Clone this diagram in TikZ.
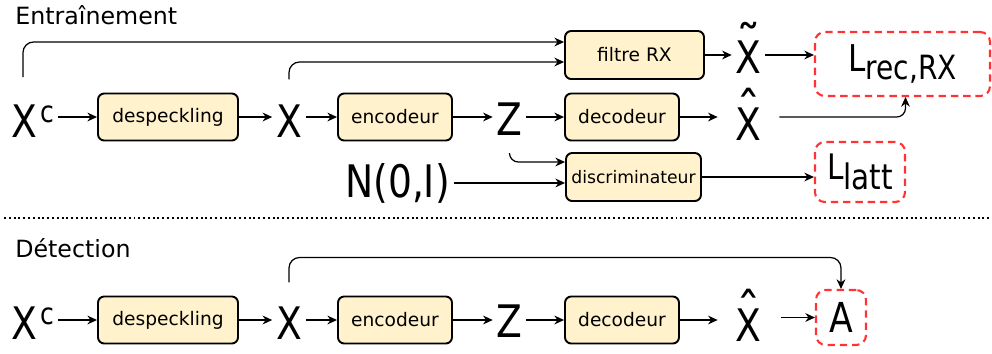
\documentclass[tikz,border=0pt]{standalone}
\usepackage{fontspec}
\setmainfont{DejaVu Sans}
\newfontfamily\symfont{DejaVu Sans}[FakeStretch=0.84]
\usetikzlibrary{arrows.meta,calc}
\definecolor{boxfill}{HTML}{FFF2CC}
\definecolor{lossred}{HTML}{FF3333}
\newcommand{\accX}[1]{\shortstack{{\rmfamily\fontsize{28}{30}\selectfont\raisebox{-0.62em}[0.14em][0pt]{#1}}\\[3pt]X}}

\begin{document}
\begin{tikzpicture}[x=0.02cm,y=-0.02cm,
    box/.style={draw,line width=1.1pt,rounded corners=3.5pt,fill=boxfill,inner sep=0pt,
      minimum height=0.94cm,font=\fontsize{10.6}{12}\selectfont},
    loss/.style={draw=lossred,line width=1.2pt,dash pattern=on 4.2pt off 2.8pt,
      rounded corners=5.5pt,inner sep=0pt,font=\symfont\fontsize{21}{24}\selectfont},
    sym/.style={anchor=base,inner sep=2pt,font=\symfont\fontsize{25.5}{30}\selectfont},
    arr/.style={-{Stealth[length=5.5pt,width=5pt]},line width=0.7pt},
    titre/.style={anchor=base west,inner sep=0pt,font=\fontsize{13.5}{16}\selectfont}]

    \useasboundingbox (0,0) rectangle (992,353);

    % Entrainement: nodes
    \node[titre] (titre1) at (15,24) {Entraînement};
    \node[sym] (xc1) at (33,137) {X\kern1.5pt\raisebox{8pt}{\fontsize{17}{18}\selectfont c}};
    \node[box,minimum width=2.8cm] (desp1) at (168,117) {despeckling};
    \node[sym] (x1) at (289,137) {X};
    \node[box,minimum width=2.28cm] (enc1) at (395,117) {encodeur};
    \node[sym] (z1) at (509.5,135) {Z};
    \node[box,minimum width=2.28cm] (dec1) at (622,117) {decodeur};
    \node[sym] (xh1) at (748.5,140) {\accX{\symbol{"02C6}}};
    \node[box,minimum width=2.78cm,minimum height=0.96cm] (rx) at (634.5,55) {filtre RX};
    \node[sym] (xt1) at (748.5,73) {\accX{\symbol{"02DC}}};
    \node[sym] (n1) at (397.5,197) {N(0,I)};
    \node[box,minimum width=2.7cm,minimum height=0.96cm,font=\fontsize{9.8}{11}\selectfont] (disc) at (633.5,177) {discriminateur};
    \node[loss,minimum width=3.5cm,minimum height=1.28cm] (lrec) at (902.5,64) {L\raisebox{-5pt}{\fontsize{19}{22}\selectfont rec,RX}};
    \node[loss,minimum width=1.8cm,minimum height=1.2cm,font=\symfont\fontsize{20}{24}\selectfont] (llatt) at (860,172) {L\raisebox{-5.7pt}{latt}};
    \coordinate (xc1top) at (23,77);

    % Entrainement: main chain
    \draw[arr] (xc1.east |- desp1.west) -- (desp1.west);
    \draw[arr] (desp1.east) -- (desp1.east -| x1.west);
    \draw[arr] (x1.east |- enc1.west) -- (enc1.west);
    \draw[arr] (enc1.east) -- (enc1.east -| z1.west);
    \draw[arr] (z1.east |- dec1.west) -- (dec1.west);
    \draw[arr,shorten >=8pt] (dec1.east) -- (dec1.east -| xh1.west);
    \draw[arr] (rx.east) -- (rx.east -| xt1.west);
    \draw[arr] (xt1.east |- rx.east) -- (rx.east -| lrec.west);
    \draw[arr,rounded corners=5pt,shorten <=8pt] (xh1.east |- dec1.east) -| ($(lrec.south)+(3,0)$);

    % Entrainement: skip lines
    \draw[arr,rounded corners=6pt] (xc1top) |- ($(rx.west)+(0,-13)$);
    \draw[arr,rounded corners=6pt] ($(x1.north)+(0,-21)$) |- ($(rx.west)+(0,7)$);
    \draw[arr,rounded corners=5pt] ($(z1.south)+(0,15)$) |- ($(disc.west)+(0,-15)$);
    \draw[arr] (n1.east) -- (n1.east -| disc.west);
    \draw[arr] (disc.east) -- (disc.east -| llatt.west);

    % separator
    \draw[line width=1.13pt,dash pattern=on 1.13pt off 1.6pt] (4,218) -- (992,218);

    % Detection: nodes
    \node[titre] (titre2) at (15,257) {Détection};
    \node[sym] (xc2) at (33,339) {X\kern1.5pt\raisebox{8pt}{\fontsize{17}{18}\selectfont c}};
    \node[box,minimum width=2.8cm] (desp2) at (168,320) {despeckling};
    \node[sym] (x2) at (289,339) {X};
    \node[box,minimum width=2.28cm] (enc2) at (395,320) {encodeur};
    \node[sym] (z2) at (509.5,337) {Z};
    \node[box,minimum width=2.28cm] (dec2) at (622,320) {decodeur};
    \node[sym] (xh2) at (748.5,341) {\accX{\symbol{"02C6}}};
    \node[loss,minimum width=1cm,minimum height=1.1cm,font=\symfont\fontsize{23.5}{28}\selectfont] (abox) at (841,317.5) {A};

    % Detection: arrows
    \draw[arr] (xc2.east |- desp2.west) -- (desp2.west);
    \draw[arr] (desp2.east) -- (desp2.east -| x2.west);
    \draw[arr] (x2.east |- enc2.west) -- (enc2.west);
    \draw[arr] (enc2.east) -- (enc2.east -| z2.west);
    \draw[arr] (z2.east |- dec2.west) -- (dec2.west);
    \draw[arr,shorten >=8pt] (dec2.east) -- (dec2.east -| xh2.west);
    \draw[arr,shorten <=9pt] (xh2.east |- abox.west) -- (abox.west);
    \draw[arr,rounded corners=6pt] ($(x2.north)+(0,-20)$) -- ++(0,-25) -| (abox.north);

\end{tikzpicture}
\end{document}
